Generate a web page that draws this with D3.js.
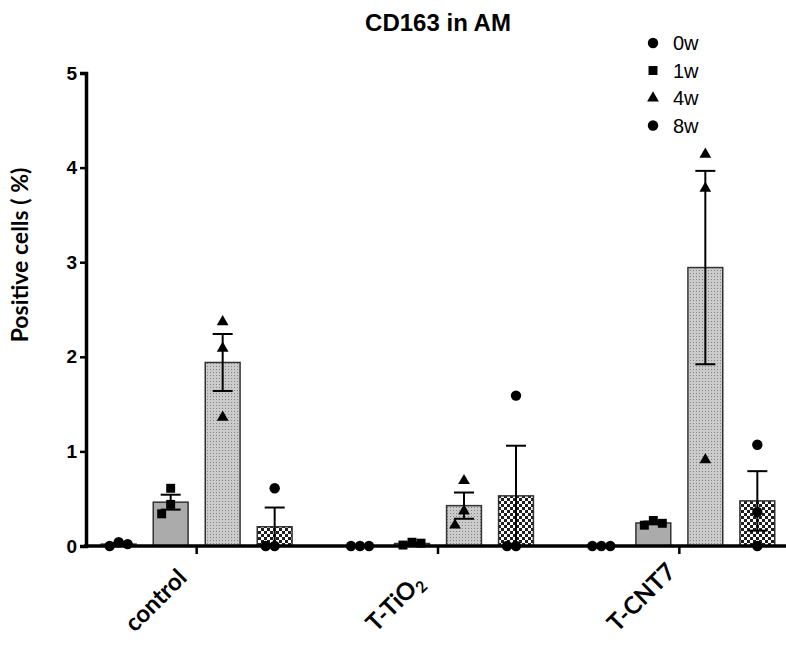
<!DOCTYPE html>
<html>
<head>
<meta charset="utf-8">
<script src="https://cdn.jsdelivr.net/npm/d3@7"></script>
<style>
  body { margin: 0; background: #fff; }
  svg { display: block; }
</style>
</head>
<body>
<svg width="786" height="645"></svg>
<script>
// groups on the x axis and the time points inside each group
var categories = ["control", "T-TiO2", "T-CNT7"];
var weeks = ["0w", "1w", "4w", "8w"];
var yTicks = [0, 1, 2, 3, 4, 5];

// replicate values (% positive cells), one array of 3 per group
var w0 = [[0.04, 0.0, 0.02], [0, 0, 0], [0, 0, 0]];
var w1 = [[0.61, 0.44, 0.34], [0.04, 0.01, 0.03], [0.27, 0.22, 0.24]];
var w4 = [[2.37, 2.09, 1.36], [0.69, 0.37, 0.22], [4.14, 3.78, 0.91]];
var w8 = [[0.61, 0, 0], [1.59, 0, 0], [1.07, 0.36, 0]];
var series = [w0, w1, w4, w8];

var svg = d3.select("svg");

var x0 = d3.scaleBand().domain(categories).range([76, 800]);
var half = x0.bandwidth() / 2;
var x1 = d3.scaleBand().domain(weeks)
  .range([half - 104, half + 104])
  .paddingInner(0.33).paddingOuter(0.165);
var y = d3.scaleLinear().domain([0, 5]).range([546, 73]);

// fills
var defs = svg.append("defs");
var pd = defs.append("pattern").attr("id", "dots").attr("patternUnits", "userSpaceOnUse")
  .attr("width", 3).attr("height", 3);
pd.append("rect").attr("width", 3).attr("height", 3).attr("fill", "#cbcbcb");
pd.append("rect").attr("width", 1).attr("height", 1).attr("fill", "#858585");
var pc = defs.append("pattern").attr("id", "checks").attr("patternUnits", "userSpaceOnUse")
  .attr("width", 6).attr("height", 6);
pc.append("rect").attr("width", 6).attr("height", 6).attr("fill", "#1e1e1e");
pc.append("rect").attr("width", 3).attr("height", 3).attr("fill", "#fff");
pc.append("rect").attr("x", 3).attr("y", 3).attr("width", 3).attr("height", 3).attr("fill", "#fff");

var fills = ["#ffffff", "#ababab", "url(#dots)", "url(#checks)"];
var shapes = [d3.symbolCircle, d3.symbolSquare, d3.symbolTriangle, d3.symbolCircle];
var sizes = [85, 80, 60, 85];

// summary rows: mean and SEM
var rows = [];
categories.forEach(function(c, ci) {
  weeks.forEach(function(w, wi) {
    var v = series[wi][ci];
    var m = d3.mean(v);
    var sem = d3.deviation(v) / Math.sqrt(v.length);
    rows.push({cat: c, week: w, wi: wi, vals: v, mean: m, sem: sem});
  });
});

var g = svg.append("g");

// bars
g.selectAll("rect.bar").data(rows).enter().append("rect")
  .attr("class", "bar")
  .attr("x", function(d) { return x0(d.cat) + x1(d.week); })
  .attr("width", x1.bandwidth())
  .attr("y", function(d) { return y(d.mean); })
  .attr("height", function(d) { return y(0) - y(d.mean); })
  .attr("fill", function(d) { return fills[d.wi]; })
  .attr("stroke", "#333")
  .attr("stroke-width", 1.5);

// error bars (mean +/- SEM)
var eb = g.selectAll("g.err").data(rows.filter(function(d) { return d.sem > 0; }))
  .enter().append("g").attr("class", "err")
  .attr("transform", function(d) { return "translate(" + (x0(d.cat) + x1(d.week) + x1.bandwidth() / 2) + ",0)"; })
  .attr("stroke", "#000").attr("stroke-width", 2);
eb.append("line")
  .attr("y1", function(d) { return y(Math.max(0, d.mean - d.sem)); })
  .attr("y2", function(d) { return y(d.mean + d.sem); });
eb.append("line").attr("x1", -10).attr("x2", 10)
  .attr("y1", function(d) { return y(d.mean + d.sem); })
  .attr("y2", function(d) { return y(d.mean + d.sem); });
eb.append("line").attr("x1", -10).attr("x2", 10)
  .attr("y1", function(d) { return y(Math.max(0, d.mean - d.sem)); })
  .attr("y2", function(d) { return y(Math.max(0, d.mean - d.sem)); });

// scatter points, spread sideways when they overlap
var pts = [];
rows.forEach(function(d) {
  var cx = x0(d.cat) + x1(d.week) + x1.bandwidth() / 2;
  var placed = [];
  d.vals.forEach(function(v) {
    var py = y(v);
    var cands = [0, -9, 9, -18, 18];
    var dx = 0;
    for (var k = 0; k < cands.length; k++) {
      var ok = placed.every(function(p) {
        return Math.abs(p.dx - cands[k]) >= 9 || Math.abs(p.y - py) >= 15;
      });
      if (ok) { dx = cands[k]; break; }
    }
    placed.push({dx: dx, y: py});
    pts.push({x: cx + dx, y: py, wi: d.wi});
  });
});

// axes
var yAxis = d3.axisLeft(y).tickValues(yTicks).tickSize(6).tickPadding(3).tickFormat(d3.format("d"));
var ya = svg.append("g").attr("transform", "translate(86,0)").call(yAxis);
ya.select(".domain").attr("stroke", "#000").attr("stroke-width", 3.5);
ya.selectAll(".tick line").attr("stroke", "#000").attr("stroke-width", 2.5);
ya.selectAll(".tick text").attr("font-family", "Liberation Sans, Arial, sans-serif")
  .attr("font-weight", "bold").attr("font-size", 19).attr("fill", "#000");

svg.append("line").attr("x1", 84).attr("x2", 786).attr("y1", y(0)).attr("y2", y(0))
  .attr("stroke", "#000").attr("stroke-width", 3.5);
svg.selectAll("line.xt").data(categories).enter().append("line").attr("class", "xt")
  .attr("x1", function(c) { return x0(c) + half; })
  .attr("x2", function(c) { return x0(c) + half; })
  .attr("y1", y(0)).attr("y2", y(0) + 8)
  .attr("stroke", "#000").attr("stroke-width", 2.5);

// points on top
svg.selectAll("path.pt").data(pts).enter().append("path").attr("class", "pt")
  .attr("transform", function(d) { return "translate(" + d.x + "," + d.y + ")"; })
  .attr("d", function(d) { return d3.symbol().type(shapes[d.wi]).size(sizes[d.wi])(); })
  .attr("fill", "#000");

// x labels
var xl = svg.selectAll("text.xl").data(categories).enter().append("text").attr("class", "xl")
  .attr("transform", function(c) { return "translate(" + (x0(c) + half - 62) + ",633) rotate(-45)"; })
  .attr("text-anchor", "start")
  .attr("font-family", "Lato, sans-serif").attr("font-weight", "bold").attr("font-size", 24);
xl.each(function(c) {
  var t = d3.select(this);
  if (c === "T-TiO2") {
    t.append("tspan").text("T-TiO");
    t.append("tspan").attr("font-size", 16).attr("dy", 5).text("2");
  } else {
    t.text(c);
  }
});

// y title
svg.append("text").attr("transform", "translate(28,255) rotate(-90)")
  .attr("text-anchor", "middle")
  .attr("font-family", "Lato, sans-serif").attr("font-weight", "bold").attr("font-size", 23)
  .text("Positive cells ( %)");

// title
svg.append("text").attr("x", 438).attr("y", 31).attr("text-anchor", "middle")
  .attr("font-family", "Liberation Sans, Arial, sans-serif").attr("font-weight", "bold")
  .attr("font-size", 24).text("CD163 in AM");

// legend
var lg = svg.selectAll("g.lg").data(weeks).enter().append("g").attr("class", "lg")
  .attr("transform", function(d, i) { return "translate(653," + (43 + i * 27.5) + ")"; });
lg.append("path").attr("d", function(d, i) { return d3.symbol().type(shapes[i]).size(sizes[i])(); })
  .attr("fill", "#000");
lg.append("text").attr("x", 20).attr("y", 7)
  .attr("font-family", "Liberation Sans, Arial, sans-serif").attr("font-size", 20)
  .text(function(d) { return d; });
</script>
</body>
</html>
